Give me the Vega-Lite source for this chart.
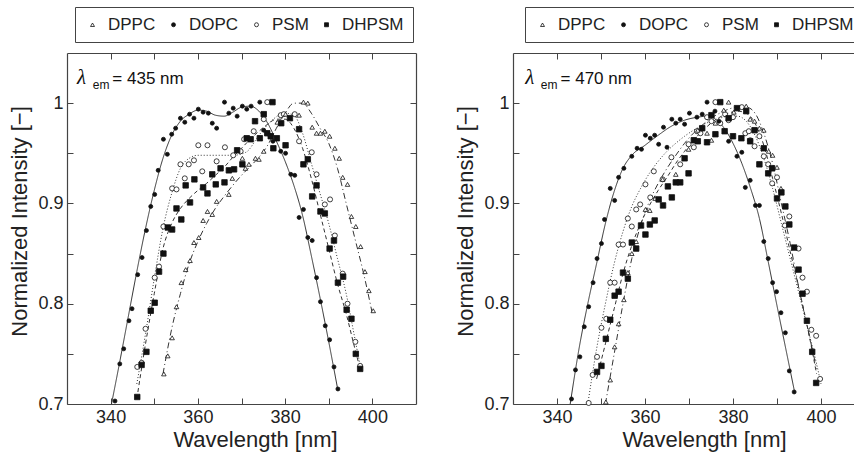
{
  "$schema": "https://vega.github.io/schema/vega-lite/v6.json",
  "padding": {"left": 8, "top": 6, "right": 0, "bottom": 3},
  "spacing": 37,
  "config": {
    "font": "Liberation Sans",
    "view": {"stroke": null},
    "axis": {"grid": false, "domainColor": "#444", "tickColor": "#444", "domainWidth": 1.2, "tickWidth": 1, "labelFontSize": 18, "titleFontSize": 22, "titleFontWeight": "normal", "labelColor": "#222", "titleColor": "#222", "tickSize": -6, "labelPadding": 10},
    "legend": {"strokeColor": "#444", "padding": 9, "labelFontSize": 17, "labelColor": "#222", "symbolSize": 16, "labelOffset": 7, "columnPadding": 9, "symbolStrokeWidth": 0.8}
  },
  "datasets": {
    "pts": [
      {"p":"435","s":"PSM","x":346.1,"y":0.737},{"p":"435","s":"PSM","x":347.1,"y":0.741},{"p":"435","s":"PSM","x":348.0,"y":0.775},{"p":"435","s":"PSM","x":350.1,"y":0.826},{"p":"435","s":"PSM","x":351.1,"y":0.837},{"p":"435","s":"PSM","x":352.1,"y":0.877},{"p":"435","s":"PSM","x":354.1,"y":0.915},{"p":"435","s":"PSM","x":355.1,"y":0.914},{"p":"435","s":"PSM","x":356.0,"y":0.939},{"p":"435","s":"PSM","x":357.0,"y":0.925},{"p":"435","s":"PSM","x":357.9,"y":0.939},{"p":"435","s":"PSM","x":359.1,"y":0.943},{"p":"435","s":"PSM","x":360.1,"y":0.958},{"p":"435","s":"PSM","x":361.0,"y":0.932},{"p":"435","s":"PSM","x":362.2,"y":0.958},{"p":"435","s":"PSM","x":364.3,"y":0.942},{"p":"435","s":"PSM","x":366.2,"y":0.956},{"p":"435","s":"PSM","x":368.1,"y":0.948},{"p":"435","s":"PSM","x":369.8,"y":0.952},{"p":"435","s":"PSM","x":370.6,"y":0.964},{"p":"435","s":"PSM","x":372.8,"y":0.972},{"p":"435","s":"PSM","x":375.1,"y":0.984},{"p":"435","s":"PSM","x":375.9,"y":1.001},{"p":"435","s":"PSM","x":379.0,"y":0.988},{"p":"435","s":"PSM","x":379.7,"y":0.989},{"p":"435","s":"PSM","x":382.2,"y":0.989},{"p":"435","s":"PSM","x":383.2,"y":0.962},{"p":"435","s":"PSM","x":386.1,"y":0.951},{"p":"435","s":"PSM","x":387.2,"y":0.929},{"p":"435","s":"PSM","x":389.1,"y":0.899},{"p":"435","s":"PSM","x":390.3,"y":0.904},{"p":"435","s":"PSM","x":391.4,"y":0.868},{"p":"435","s":"PSM","x":393.2,"y":0.83},{"p":"435","s":"PSM","x":394.3,"y":0.8},{"p":"435","s":"PSM","x":396.1,"y":0.762},{"p":"435","s":"PSM","x":397.2,"y":0.738},
      {"p":"435","s":"DPPC","x":352.2,"y":0.730},{"p":"435","s":"DPPC","x":353.1,"y":0.748},{"p":"435","s":"DPPC","x":354.1,"y":0.766},{"p":"435","s":"DPPC","x":355.1,"y":0.797},{"p":"435","s":"DPPC","x":356.2,"y":0.821},{"p":"435","s":"DPPC","x":357.2,"y":0.834},{"p":"435","s":"DPPC","x":358.2,"y":0.843},{"p":"435","s":"DPPC","x":359.1,"y":0.861},{"p":"435","s":"DPPC","x":360.2,"y":0.866},{"p":"435","s":"DPPC","x":361.2,"y":0.883},{"p":"435","s":"DPPC","x":362.2,"y":0.892},{"p":"435","s":"DPPC","x":363.3,"y":0.889},{"p":"435","s":"DPPC","x":364.3,"y":0.902},{"p":"435","s":"DPPC","x":367.1,"y":0.909},{"p":"435","s":"DPPC","x":367.9,"y":0.925},{"p":"435","s":"DPPC","x":370.2,"y":0.945},{"p":"435","s":"DPPC","x":370.9,"y":0.935},{"p":"435","s":"DPPC","x":371.7,"y":0.939},{"p":"435","s":"DPPC","x":373.2,"y":0.945},{"p":"435","s":"DPPC","x":374.0,"y":0.944},{"p":"435","s":"DPPC","x":375.1,"y":0.952},{"p":"435","s":"DPPC","x":378.2,"y":0.981},{"p":"435","s":"DPPC","x":379.0,"y":0.980},{"p":"435","s":"DPPC","x":380.1,"y":0.989},{"p":"435","s":"DPPC","x":383.2,"y":0.988},{"p":"435","s":"DPPC","x":384.2,"y":1.001},{"p":"435","s":"DPPC","x":385.2,"y":1.000},{"p":"435","s":"DPPC","x":386.2,"y":0.976},{"p":"435","s":"DPPC","x":387.2,"y":0.970},{"p":"435","s":"DPPC","x":388.1,"y":0.970},{"p":"435","s":"DPPC","x":389.1,"y":0.972},{"p":"435","s":"DPPC","x":390.2,"y":0.967},{"p":"435","s":"DPPC","x":391.4,"y":0.955},{"p":"435","s":"DPPC","x":392.4,"y":0.945},{"p":"435","s":"DPPC","x":393.2,"y":0.926},{"p":"435","s":"DPPC","x":394.3,"y":0.919},{"p":"435","s":"DPPC","x":395.2,"y":0.887},{"p":"435","s":"DPPC","x":396.2,"y":0.877},{"p":"435","s":"DPPC","x":397.3,"y":0.857},{"p":"435","s":"DPPC","x":398.3,"y":0.832},{"p":"435","s":"DPPC","x":399.2,"y":0.813},{"p":"435","s":"DPPC","x":400.2,"y":0.793},
      {"p":"435","s":"DHPSM","x":346.1,"y":0.707},{"p":"435","s":"DHPSM","x":347.1,"y":0.739},{"p":"435","s":"DHPSM","x":348.2,"y":0.752},{"p":"435","s":"DHPSM","x":349.2,"y":0.793},{"p":"435","s":"DHPSM","x":350.1,"y":0.801},{"p":"435","s":"DHPSM","x":351.1,"y":0.832},{"p":"435","s":"DHPSM","x":352.1,"y":0.850},{"p":"435","s":"DHPSM","x":353.1,"y":0.876},{"p":"435","s":"DHPSM","x":354.1,"y":0.874},{"p":"435","s":"DHPSM","x":355.1,"y":0.895},{"p":"435","s":"DHPSM","x":356.2,"y":0.884},{"p":"435","s":"DHPSM","x":357.2,"y":0.918},{"p":"435","s":"DHPSM","x":358.2,"y":0.901},{"p":"435","s":"DHPSM","x":359.2,"y":0.924},{"p":"435","s":"DHPSM","x":361.2,"y":0.916},{"p":"435","s":"DHPSM","x":362.2,"y":0.910},{"p":"435","s":"DHPSM","x":363.3,"y":0.929},{"p":"435","s":"DHPSM","x":364.1,"y":0.919},{"p":"435","s":"DHPSM","x":365.2,"y":0.935},{"p":"435","s":"DHPSM","x":366.1,"y":0.921},{"p":"435","s":"DHPSM","x":367.1,"y":0.933},{"p":"435","s":"DHPSM","x":368.3,"y":0.934},{"p":"435","s":"DHPSM","x":369.0,"y":0.953},{"p":"435","s":"DHPSM","x":370.2,"y":0.939},{"p":"435","s":"DHPSM","x":371.2,"y":0.965},{"p":"435","s":"DHPSM","x":372.1,"y":0.964},{"p":"435","s":"DHPSM","x":373.1,"y":0.982},{"p":"435","s":"DHPSM","x":374.2,"y":0.965},{"p":"435","s":"DHPSM","x":375.1,"y":0.989},{"p":"435","s":"DHPSM","x":375.9,"y":0.970},{"p":"435","s":"DHPSM","x":376.7,"y":0.967},{"p":"435","s":"DHPSM","x":377.1,"y":1.001},{"p":"435","s":"DHPSM","x":377.3,"y":0.955},{"p":"435","s":"DHPSM","x":378.1,"y":0.965},{"p":"435","s":"DHPSM","x":379.1,"y":0.980},{"p":"435","s":"DHPSM","x":380.1,"y":0.958},{"p":"435","s":"DHPSM","x":381.1,"y":0.985},{"p":"435","s":"DHPSM","x":383.2,"y":0.974},{"p":"435","s":"DHPSM","x":384.2,"y":0.939},{"p":"435","s":"DHPSM","x":385.2,"y":0.944},{"p":"435","s":"DHPSM","x":386.2,"y":0.907},{"p":"435","s":"DHPSM","x":387.2,"y":0.918},{"p":"435","s":"DHPSM","x":388.1,"y":0.892},{"p":"435","s":"DHPSM","x":389.1,"y":0.890},{"p":"435","s":"DHPSM","x":390.2,"y":0.855},{"p":"435","s":"DHPSM","x":391.2,"y":0.863},{"p":"435","s":"DHPSM","x":392.1,"y":0.821},{"p":"435","s":"DHPSM","x":393.3,"y":0.827},{"p":"435","s":"DHPSM","x":394.1,"y":0.794},{"p":"435","s":"DHPSM","x":395.2,"y":0.785},{"p":"435","s":"DHPSM","x":396.2,"y":0.750},{"p":"435","s":"DHPSM","x":397.2,"y":0.735},
      {"p":"435","s":"DOPC","x":341.0,"y":0.703},{"p":"435","s":"DOPC","x":342.1,"y":0.740},{"p":"435","s":"DOPC","x":343.0,"y":0.755},{"p":"435","s":"DOPC","x":344.2,"y":0.783},{"p":"435","s":"DOPC","x":344.9,"y":0.795},{"p":"435","s":"DOPC","x":346.2,"y":0.829},{"p":"435","s":"DOPC","x":347.2,"y":0.846},{"p":"435","s":"DOPC","x":348.2,"y":0.873},{"p":"435","s":"DOPC","x":349.2,"y":0.897},{"p":"435","s":"DOPC","x":350.1,"y":0.909},{"p":"435","s":"DOPC","x":350.9,"y":0.933},{"p":"435","s":"DOPC","x":352.1,"y":0.964},{"p":"435","s":"DOPC","x":353.0,"y":0.949},{"p":"435","s":"DOPC","x":354.0,"y":0.969},{"p":"435","s":"DOPC","x":354.9,"y":0.975},{"p":"435","s":"DOPC","x":356.0,"y":0.985},{"p":"435","s":"DOPC","x":357.0,"y":0.981},{"p":"435","s":"DOPC","x":358.1,"y":0.989},{"p":"435","s":"DOPC","x":359.1,"y":0.985},{"p":"435","s":"DOPC","x":360.1,"y":0.994},{"p":"435","s":"DOPC","x":361.2,"y":0.991},{"p":"435","s":"DOPC","x":362.4,"y":0.990},{"p":"435","s":"DOPC","x":363.3,"y":0.980},{"p":"435","s":"DOPC","x":364.3,"y":0.975},{"p":"435","s":"DOPC","x":366.1,"y":1.001},{"p":"435","s":"DOPC","x":367.1,"y":0.990},{"p":"435","s":"DOPC","x":368.1,"y":0.995},{"p":"435","s":"DOPC","x":369.0,"y":0.987},{"p":"435","s":"DOPC","x":370.2,"y":0.997},{"p":"435","s":"DOPC","x":371.2,"y":0.994},{"p":"435","s":"DOPC","x":372.2,"y":0.997},{"p":"435","s":"DOPC","x":374.2,"y":1.001},{"p":"435","s":"DOPC","x":375.1,"y":0.973},{"p":"435","s":"DOPC","x":376.5,"y":0.968},{"p":"435","s":"DOPC","x":377.2,"y":0.962},{"p":"435","s":"DOPC","x":379.0,"y":0.952},{"p":"435","s":"DOPC","x":380.1,"y":0.950},{"p":"435","s":"DOPC","x":381.3,"y":0.929},{"p":"435","s":"DOPC","x":382.2,"y":0.928},{"p":"435","s":"DOPC","x":383.2,"y":0.886},{"p":"435","s":"DOPC","x":384.2,"y":0.894},{"p":"435","s":"DOPC","x":385.2,"y":0.866},{"p":"435","s":"DOPC","x":386.2,"y":0.863},{"p":"435","s":"DOPC","x":387.2,"y":0.826},{"p":"435","s":"DOPC","x":388.1,"y":0.802},{"p":"435","s":"DOPC","x":389.2,"y":0.778},{"p":"435","s":"DOPC","x":390.2,"y":0.764},{"p":"435","s":"DOPC","x":391.2,"y":0.737},{"p":"435","s":"DOPC","x":392.1,"y":0.715},

      {"p":"470","s":"PSM","x":347.2,"y":0.701},{"p":"470","s":"PSM","x":348.1,"y":0.729},{"p":"470","s":"PSM","x":349.1,"y":0.747},{"p":"470","s":"PSM","x":350.1,"y":0.776},{"p":"470","s":"PSM","x":351.2,"y":0.785},{"p":"470","s":"PSM","x":352.1,"y":0.821},{"p":"470","s":"PSM","x":353.1,"y":0.821},{"p":"470","s":"PSM","x":354.0,"y":0.859},{"p":"470","s":"PSM","x":355.0,"y":0.859},{"p":"470","s":"PSM","x":356.1,"y":0.885},{"p":"470","s":"PSM","x":357.0,"y":0.877},{"p":"470","s":"PSM","x":358.0,"y":0.894},{"p":"470","s":"PSM","x":358.9,"y":0.899},{"p":"470","s":"PSM","x":360.1,"y":0.919},{"p":"470","s":"PSM","x":361.2,"y":0.906},{"p":"470","s":"PSM","x":362.0,"y":0.932},{"p":"470","s":"PSM","x":364.0,"y":0.924},{"p":"470","s":"PSM","x":366.0,"y":0.946},{"p":"470","s":"PSM","x":368.0,"y":0.939},{"p":"470","s":"PSM","x":369.9,"y":0.959},{"p":"470","s":"PSM","x":371.1,"y":0.956},{"p":"470","s":"PSM","x":371.8,"y":0.972},{"p":"470","s":"PSM","x":372.6,"y":0.970},{"p":"470","s":"PSM","x":374.1,"y":0.986},{"p":"470","s":"PSM","x":375.1,"y":0.982},{"p":"470","s":"PSM","x":376.0,"y":1.001},{"p":"470","s":"PSM","x":377.1,"y":0.980},{"p":"470","s":"PSM","x":378.2,"y":0.989},{"p":"470","s":"PSM","x":379.0,"y":0.983},{"p":"470","s":"PSM","x":380.0,"y":0.986},{"p":"470","s":"PSM","x":382.0,"y":0.996},{"p":"470","s":"PSM","x":382.8,"y":0.970},{"p":"470","s":"PSM","x":383.6,"y":0.972},{"p":"470","s":"PSM","x":383.9,"y":0.963},{"p":"470","s":"PSM","x":384.9,"y":0.957},{"p":"470","s":"PSM","x":386.0,"y":0.967},{"p":"470","s":"PSM","x":387.0,"y":0.947},{"p":"470","s":"PSM","x":388.0,"y":0.939},{"p":"470","s":"PSM","x":388.9,"y":0.920},{"p":"470","s":"PSM","x":390.0,"y":0.926},{"p":"470","s":"PSM","x":391.8,"y":0.878},{"p":"470","s":"PSM","x":392.8,"y":0.887},{"p":"470","s":"PSM","x":394.9,"y":0.855},{"p":"470","s":"PSM","x":395.8,"y":0.826},{"p":"470","s":"PSM","x":396.8,"y":0.812},{"p":"470","s":"PSM","x":397.8,"y":0.774},{"p":"470","s":"PSM","x":398.9,"y":0.768},{"p":"470","s":"PSM","x":399.8,"y":0.725},
      {"p":"470","s":"DPPC","x":351.1,"y":0.702},{"p":"470","s":"DPPC","x":352.1,"y":0.724},{"p":"470","s":"DPPC","x":353.1,"y":0.757},{"p":"470","s":"DPPC","x":354.0,"y":0.780},{"p":"470","s":"DPPC","x":355.2,"y":0.804},{"p":"470","s":"DPPC","x":356.1,"y":0.831},{"p":"470","s":"DPPC","x":357.0,"y":0.850},{"p":"470","s":"DPPC","x":358.0,"y":0.862},{"p":"470","s":"DPPC","x":360.1,"y":0.894},{"p":"470","s":"DPPC","x":361.1,"y":0.893},{"p":"470","s":"DPPC","x":362.3,"y":0.905},{"p":"470","s":"DPPC","x":364.0,"y":0.924},{"p":"470","s":"DPPC","x":367.0,"y":0.929},{"p":"470","s":"DPPC","x":369.9,"y":0.954},{"p":"470","s":"DPPC","x":372.0,"y":0.973},{"p":"470","s":"DPPC","x":374.1,"y":0.970},{"p":"470","s":"DPPC","x":375.1,"y":0.963},{"p":"470","s":"DPPC","x":376.0,"y":0.980},{"p":"470","s":"DPPC","x":377.9,"y":0.993},{"p":"470","s":"DPPC","x":379.0,"y":1.001},{"p":"470","s":"DPPC","x":380.2,"y":0.991},{"p":"470","s":"DPPC","x":383.0,"y":0.997},{"p":"470","s":"DPPC","x":383.9,"y":0.984},{"p":"470","s":"DPPC","x":384.9,"y":0.982},{"p":"470","s":"DPPC","x":386.0,"y":0.975},{"p":"470","s":"DPPC","x":387.0,"y":0.973},{"p":"470","s":"DPPC","x":388.1,"y":0.952},{"p":"470","s":"DPPC","x":389.0,"y":0.948},{"p":"470","s":"DPPC","x":390.0,"y":0.936},{"p":"470","s":"DPPC","x":390.9,"y":0.915},
      {"p":"470","s":"DHPSM","x":349.1,"y":0.732},{"p":"470","s":"DHPSM","x":350.1,"y":0.738},{"p":"470","s":"DHPSM","x":351.1,"y":0.765},{"p":"470","s":"DHPSM","x":352.1,"y":0.784},{"p":"470","s":"DHPSM","x":353.1,"y":0.808},{"p":"470","s":"DHPSM","x":354.0,"y":0.812},{"p":"470","s":"DHPSM","x":355.0,"y":0.831},{"p":"470","s":"DHPSM","x":356.1,"y":0.825},{"p":"470","s":"DHPSM","x":357.0,"y":0.861},{"p":"470","s":"DHPSM","x":358.0,"y":0.855},{"p":"470","s":"DHPSM","x":359.1,"y":0.878},{"p":"470","s":"DHPSM","x":360.1,"y":0.869},{"p":"470","s":"DHPSM","x":361.1,"y":0.879},{"p":"470","s":"DHPSM","x":362.2,"y":0.883},{"p":"470","s":"DHPSM","x":363.1,"y":0.904},{"p":"470","s":"DHPSM","x":364.1,"y":0.898},{"p":"470","s":"DHPSM","x":365.2,"y":0.917},{"p":"470","s":"DHPSM","x":366.1,"y":0.906},{"p":"470","s":"DHPSM","x":367.0,"y":0.921},{"p":"470","s":"DHPSM","x":368.0,"y":0.921},{"p":"470","s":"DHPSM","x":369.0,"y":0.945},{"p":"470","s":"DHPSM","x":369.9,"y":0.930},{"p":"470","s":"DHPSM","x":371.1,"y":0.963},{"p":"470","s":"DHPSM","x":372.0,"y":0.962},{"p":"470","s":"DHPSM","x":373.0,"y":0.975},{"p":"470","s":"DHPSM","x":374.1,"y":0.961},{"p":"470","s":"DHPSM","x":375.1,"y":0.988},{"p":"470","s":"DHPSM","x":376.0,"y":0.969},{"p":"470","s":"DHPSM","x":377.1,"y":1.001},{"p":"470","s":"DHPSM","x":378.1,"y":0.972},{"p":"470","s":"DHPSM","x":379.0,"y":0.985},{"p":"470","s":"DHPSM","x":380.0,"y":0.967},{"p":"470","s":"DHPSM","x":380.9,"y":0.995},{"p":"470","s":"DHPSM","x":381.9,"y":0.965},{"p":"470","s":"DHPSM","x":383.0,"y":0.992},{"p":"470","s":"DHPSM","x":383.9,"y":0.962},{"p":"470","s":"DHPSM","x":384.9,"y":0.973},{"p":"470","s":"DHPSM","x":386.0,"y":0.939},{"p":"470","s":"DHPSM","x":387.0,"y":0.955},{"p":"470","s":"DHPSM","x":388.0,"y":0.930},{"p":"470","s":"DHPSM","x":388.9,"y":0.935},{"p":"470","s":"DHPSM","x":390.0,"y":0.905},{"p":"470","s":"DHPSM","x":391.0,"y":0.911},{"p":"470","s":"DHPSM","x":391.9,"y":0.897},{"p":"470","s":"DHPSM","x":392.8,"y":0.879},{"p":"470","s":"DHPSM","x":393.9,"y":0.856},{"p":"470","s":"DHPSM","x":394.9,"y":0.834},{"p":"470","s":"DHPSM","x":395.8,"y":0.810},{"p":"470","s":"DHPSM","x":396.8,"y":0.783},{"p":"470","s":"DHPSM","x":398.0,"y":0.752},{"p":"470","s":"DHPSM","x":398.9,"y":0.721},
      {"p":"470","s":"DOPC","x":343.3,"y":0.705},{"p":"470","s":"DOPC","x":344.2,"y":0.734},{"p":"470","s":"DOPC","x":345.2,"y":0.747},{"p":"470","s":"DOPC","x":346.2,"y":0.777},{"p":"470","s":"DOPC","x":347.2,"y":0.797},{"p":"470","s":"DOPC","x":348.2,"y":0.821},{"p":"470","s":"DOPC","x":349.1,"y":0.845},{"p":"470","s":"DOPC","x":350.1,"y":0.860},{"p":"470","s":"DOPC","x":350.8,"y":0.884},{"p":"470","s":"DOPC","x":352.1,"y":0.915},{"p":"470","s":"DOPC","x":353.1,"y":0.903},{"p":"470","s":"DOPC","x":354.0,"y":0.926},{"p":"470","s":"DOPC","x":355.2,"y":0.935},{"p":"470","s":"DOPC","x":357.0,"y":0.947},{"p":"470","s":"DOPC","x":358.2,"y":0.955},{"p":"470","s":"DOPC","x":359.2,"y":0.954},{"p":"470","s":"DOPC","x":360.1,"y":0.968},{"p":"470","s":"DOPC","x":361.2,"y":0.965},{"p":"470","s":"DOPC","x":362.2,"y":0.968},{"p":"470","s":"DOPC","x":363.1,"y":0.959},{"p":"470","s":"DOPC","x":364.2,"y":0.976},{"p":"470","s":"DOPC","x":365.0,"y":0.956},{"p":"470","s":"DOPC","x":366.1,"y":0.984},{"p":"470","s":"DOPC","x":367.0,"y":0.980},{"p":"470","s":"DOPC","x":368.0,"y":0.984},{"p":"470","s":"DOPC","x":369.0,"y":0.979},{"p":"470","s":"DOPC","x":370.1,"y":0.990},{"p":"470","s":"DOPC","x":371.8,"y":0.986},{"p":"470","s":"DOPC","x":373.0,"y":0.989},{"p":"470","s":"DOPC","x":374.1,"y":1.001},{"p":"470","s":"DOPC","x":375.9,"y":0.992},{"p":"470","s":"DOPC","x":376.8,"y":0.982},{"p":"470","s":"DOPC","x":378.1,"y":0.972},{"p":"470","s":"DOPC","x":379.0,"y":0.962},{"p":"470","s":"DOPC","x":380.9,"y":0.947},{"p":"470","s":"DOPC","x":382.0,"y":0.951},{"p":"470","s":"DOPC","x":382.8,"y":0.916},{"p":"470","s":"DOPC","x":383.9,"y":0.923},{"p":"470","s":"DOPC","x":385.1,"y":0.898},{"p":"470","s":"DOPC","x":386.0,"y":0.898},{"p":"470","s":"DOPC","x":387.0,"y":0.862},{"p":"470","s":"DOPC","x":388.0,"y":0.845},{"p":"470","s":"DOPC","x":389.0,"y":0.821},{"p":"470","s":"DOPC","x":389.9,"y":0.812},{"p":"470","s":"DOPC","x":390.9,"y":0.791},{"p":"470","s":"DOPC","x":391.9,"y":0.771},{"p":"470","s":"DOPC","x":392.8,"y":0.733},{"p":"470","s":"DOPC","x":393.9,"y":0.712}
    ],
    "fit": [
      {"p":"435","s":"DOPC","x":340.2,"y":0.700},{"p":"435","s":"DOPC","x":342,"y":0.740},{"p":"435","s":"DOPC","x":344,"y":0.786},{"p":"435","s":"DOPC","x":346,"y":0.832},{"p":"435","s":"DOPC","x":348,"y":0.875},{"p":"435","s":"DOPC","x":350,"y":0.913},{"p":"435","s":"DOPC","x":352,"y":0.945},{"p":"435","s":"DOPC","x":354,"y":0.968},{"p":"435","s":"DOPC","x":356,"y":0.982},{"p":"435","s":"DOPC","x":358,"y":0.989},{"p":"435","s":"DOPC","x":360,"y":0.993},{"p":"435","s":"DOPC","x":362,"y":0.992},{"p":"435","s":"DOPC","x":364,"y":0.988},{"p":"435","s":"DOPC","x":366,"y":0.987},{"p":"435","s":"DOPC","x":368,"y":0.991},{"p":"435","s":"DOPC","x":370,"y":0.996},{"p":"435","s":"DOPC","x":372,"y":0.997},{"p":"435","s":"DOPC","x":374,"y":0.992},{"p":"435","s":"DOPC","x":376,"y":0.980},{"p":"435","s":"DOPC","x":378,"y":0.962},{"p":"435","s":"DOPC","x":380,"y":0.942},{"p":"435","s":"DOPC","x":382,"y":0.918},{"p":"435","s":"DOPC","x":384,"y":0.888},{"p":"435","s":"DOPC","x":386,"y":0.848},{"p":"435","s":"DOPC","x":388,"y":0.806},{"p":"435","s":"DOPC","x":390,"y":0.762},{"p":"435","s":"DOPC","x":392,"y":0.716},
      {"p":"435","s":"PSM","x":346,"y":0.720},{"p":"435","s":"PSM","x":348,"y":0.770},{"p":"435","s":"PSM","x":350,"y":0.825},{"p":"435","s":"PSM","x":352,"y":0.875},{"p":"435","s":"PSM","x":354,"y":0.910},{"p":"435","s":"PSM","x":356,"y":0.935},{"p":"435","s":"PSM","x":358,"y":0.945},{"p":"435","s":"PSM","x":360,"y":0.948},{"p":"435","s":"PSM","x":364,"y":0.948},{"p":"435","s":"PSM","x":368,"y":0.948},{"p":"435","s":"PSM","x":371,"y":0.951},{"p":"435","s":"PSM","x":374,"y":0.968},{"p":"435","s":"PSM","x":377,"y":0.983},{"p":"435","s":"PSM","x":380,"y":0.990},{"p":"435","s":"PSM","x":382,"y":0.988},{"p":"435","s":"PSM","x":384,"y":0.970},{"p":"435","s":"PSM","x":386,"y":0.940},{"p":"435","s":"PSM","x":388,"y":0.910},{"p":"435","s":"PSM","x":390,"y":0.880},{"p":"435","s":"PSM","x":392,"y":0.845},{"p":"435","s":"PSM","x":394,"y":0.810},{"p":"435","s":"PSM","x":396,"y":0.765},{"p":"435","s":"PSM","x":397.3,"y":0.736},
      {"p":"435","s":"DHPSM","x":346,"y":0.705},{"p":"435","s":"DHPSM","x":348,"y":0.760},{"p":"435","s":"DHPSM","x":350,"y":0.810},{"p":"435","s":"DHPSM","x":352,"y":0.855},{"p":"435","s":"DHPSM","x":354,"y":0.880},{"p":"435","s":"DHPSM","x":356,"y":0.895},{"p":"435","s":"DHPSM","x":358,"y":0.905},{"p":"435","s":"DHPSM","x":360,"y":0.913},{"p":"435","s":"DHPSM","x":362,"y":0.920},{"p":"435","s":"DHPSM","x":364,"y":0.928},{"p":"435","s":"DHPSM","x":366,"y":0.936},{"p":"435","s":"DHPSM","x":368,"y":0.946},{"p":"435","s":"DHPSM","x":370,"y":0.955},{"p":"435","s":"DHPSM","x":372,"y":0.964},{"p":"435","s":"DHPSM","x":374,"y":0.972},{"p":"435","s":"DHPSM","x":376,"y":0.979},{"p":"435","s":"DHPSM","x":378,"y":0.984},{"p":"435","s":"DHPSM","x":380,"y":0.984},{"p":"435","s":"DHPSM","x":382,"y":0.975},{"p":"435","s":"DHPSM","x":384,"y":0.955},{"p":"435","s":"DHPSM","x":386,"y":0.925},{"p":"435","s":"DHPSM","x":388,"y":0.890},{"p":"435","s":"DHPSM","x":390,"y":0.855},{"p":"435","s":"DHPSM","x":392,"y":0.820},{"p":"435","s":"DHPSM","x":394,"y":0.790},{"p":"435","s":"DHPSM","x":396,"y":0.755},{"p":"435","s":"DHPSM","x":397.2,"y":0.735},
      {"p":"435","s":"DPPC","x":352,"y":0.730},{"p":"435","s":"DPPC","x":354,"y":0.775},{"p":"435","s":"DPPC","x":356,"y":0.810},{"p":"435","s":"DPPC","x":358,"y":0.840},{"p":"435","s":"DPPC","x":360,"y":0.862},{"p":"435","s":"DPPC","x":362,"y":0.880},{"p":"435","s":"DPPC","x":364,"y":0.895},{"p":"435","s":"DPPC","x":366,"y":0.907},{"p":"435","s":"DPPC","x":368,"y":0.918},{"p":"435","s":"DPPC","x":370,"y":0.928},{"p":"435","s":"DPPC","x":372,"y":0.937},{"p":"435","s":"DPPC","x":374,"y":0.946},{"p":"435","s":"DPPC","x":376,"y":0.958},{"p":"435","s":"DPPC","x":378,"y":0.975},{"p":"435","s":"DPPC","x":380,"y":0.990},{"p":"435","s":"DPPC","x":382,"y":1.000},{"p":"435","s":"DPPC","x":384,"y":1.000},{"p":"435","s":"DPPC","x":386,"y":0.990},{"p":"435","s":"DPPC","x":388,"y":0.975},{"p":"435","s":"DPPC","x":390,"y":0.960},{"p":"435","s":"DPPC","x":392,"y":0.935},{"p":"435","s":"DPPC","x":394,"y":0.900},{"p":"435","s":"DPPC","x":396,"y":0.865},{"p":"435","s":"DPPC","x":398,"y":0.830},{"p":"435","s":"DPPC","x":400,"y":0.790},
      {"p":"470","s":"DOPC","x":343,"y":0.700},{"p":"470","s":"DOPC","x":345,"y":0.755},{"p":"470","s":"DOPC","x":347,"y":0.800},{"p":"470","s":"DOPC","x":349,"y":0.840},{"p":"470","s":"DOPC","x":351,"y":0.880},{"p":"470","s":"DOPC","x":353,"y":0.912},{"p":"470","s":"DOPC","x":355,"y":0.935},{"p":"470","s":"DOPC","x":357,"y":0.948},{"p":"470","s":"DOPC","x":360,"y":0.958},{"p":"470","s":"DOPC","x":363,"y":0.968},{"p":"470","s":"DOPC","x":366,"y":0.977},{"p":"470","s":"DOPC","x":369,"y":0.983},{"p":"470","s":"DOPC","x":372,"y":0.986},{"p":"470","s":"DOPC","x":374,"y":0.987},{"p":"470","s":"DOPC","x":376,"y":0.984},{"p":"470","s":"DOPC","x":378,"y":0.975},{"p":"470","s":"DOPC","x":380,"y":0.960},{"p":"470","s":"DOPC","x":382,"y":0.940},{"p":"470","s":"DOPC","x":384,"y":0.915},{"p":"470","s":"DOPC","x":386,"y":0.885},{"p":"470","s":"DOPC","x":388,"y":0.842},{"p":"470","s":"DOPC","x":390,"y":0.798},{"p":"470","s":"DOPC","x":392,"y":0.755},{"p":"470","s":"DOPC","x":394,"y":0.712},
      {"p":"470","s":"PSM","x":347,"y":0.700},{"p":"470","s":"PSM","x":349,"y":0.755},{"p":"470","s":"PSM","x":351,"y":0.800},{"p":"470","s":"PSM","x":353,"y":0.840},{"p":"470","s":"PSM","x":355,"y":0.872},{"p":"470","s":"PSM","x":357,"y":0.897},{"p":"470","s":"PSM","x":359,"y":0.915},{"p":"470","s":"PSM","x":361,"y":0.930},{"p":"470","s":"PSM","x":363,"y":0.942},{"p":"470","s":"PSM","x":365,"y":0.952},{"p":"470","s":"PSM","x":367,"y":0.960},{"p":"470","s":"PSM","x":369,"y":0.967},{"p":"470","s":"PSM","x":371,"y":0.973},{"p":"470","s":"PSM","x":373,"y":0.978},{"p":"470","s":"PSM","x":375,"y":0.982},{"p":"470","s":"PSM","x":377,"y":0.985},{"p":"470","s":"PSM","x":379,"y":0.987},{"p":"470","s":"PSM","x":381,"y":0.987},{"p":"470","s":"PSM","x":383,"y":0.982},{"p":"470","s":"PSM","x":385,"y":0.968},{"p":"470","s":"PSM","x":387,"y":0.945},{"p":"470","s":"PSM","x":389,"y":0.915},{"p":"470","s":"PSM","x":391,"y":0.880},{"p":"470","s":"PSM","x":393,"y":0.845},{"p":"470","s":"PSM","x":395,"y":0.810},{"p":"470","s":"PSM","x":397,"y":0.775},{"p":"470","s":"PSM","x":399,"y":0.740},{"p":"470","s":"PSM","x":400,"y":0.720},
      {"p":"470","s":"DHPSM","x":349,"y":0.725},{"p":"470","s":"DHPSM","x":351,"y":0.760},{"p":"470","s":"DHPSM","x":353,"y":0.795},{"p":"470","s":"DHPSM","x":355,"y":0.830},{"p":"470","s":"DHPSM","x":357,"y":0.858},{"p":"470","s":"DHPSM","x":359,"y":0.880},{"p":"470","s":"DHPSM","x":361,"y":0.898},{"p":"470","s":"DHPSM","x":363,"y":0.913},{"p":"470","s":"DHPSM","x":365,"y":0.926},{"p":"470","s":"DHPSM","x":367,"y":0.940},{"p":"470","s":"DHPSM","x":369,"y":0.952},{"p":"470","s":"DHPSM","x":371,"y":0.963},{"p":"470","s":"DHPSM","x":373,"y":0.972},{"p":"470","s":"DHPSM","x":375,"y":0.980},{"p":"470","s":"DHPSM","x":377,"y":0.986},{"p":"470","s":"DHPSM","x":379,"y":0.990},{"p":"470","s":"DHPSM","x":381,"y":0.992},{"p":"470","s":"DHPSM","x":383,"y":0.990},{"p":"470","s":"DHPSM","x":385,"y":0.980},{"p":"470","s":"DHPSM","x":387,"y":0.958},{"p":"470","s":"DHPSM","x":389,"y":0.925},{"p":"470","s":"DHPSM","x":391,"y":0.890},{"p":"470","s":"DHPSM","x":393,"y":0.852},{"p":"470","s":"DHPSM","x":395,"y":0.815},{"p":"470","s":"DHPSM","x":397,"y":0.775},{"p":"470","s":"DHPSM","x":399,"y":0.730},
      {"p":"470","s":"DPPC","x":351,"y":0.700},{"p":"470","s":"DPPC","x":353,"y":0.750},{"p":"470","s":"DPPC","x":355,"y":0.800},{"p":"470","s":"DPPC","x":357,"y":0.845},{"p":"470","s":"DPPC","x":359,"y":0.878},{"p":"470","s":"DPPC","x":361,"y":0.902},{"p":"470","s":"DPPC","x":363,"y":0.920},{"p":"470","s":"DPPC","x":365,"y":0.935},{"p":"470","s":"DPPC","x":367,"y":0.948},{"p":"470","s":"DPPC","x":369,"y":0.960},{"p":"470","s":"DPPC","x":371,"y":0.970},{"p":"470","s":"DPPC","x":373,"y":0.978},{"p":"470","s":"DPPC","x":375,"y":0.985},{"p":"470","s":"DPPC","x":377,"y":0.990},{"p":"470","s":"DPPC","x":379,"y":0.994},{"p":"470","s":"DPPC","x":381,"y":0.996},{"p":"470","s":"DPPC","x":383,"y":0.996},{"p":"470","s":"DPPC","x":385,"y":0.990},{"p":"470","s":"DPPC","x":387,"y":0.970},{"p":"470","s":"DPPC","x":389,"y":0.940},{"p":"470","s":"DPPC","x":391,"y":0.900},{"p":"470","s":"DPPC","x":393,"y":0.860},{"p":"470","s":"DPPC","x":395,"y":0.815},{"p":"470","s":"DPPC","x":397,"y":0.775},{"p":"470","s":"DPPC","x":399,"y":0.735}
    ],
    "notes": [
      {"p":"435","part":"lam","x":332.3,"y":1.019,"t":"λ"},
      {"p":"435","part":"sub","x":335.9,"y":1.0145,"t":"em"},
      {"p":"435","part":"main","x":340.4,"y":1.019,"t":"= 435 nm"},
      {"p":"470","part":"lam","x":332.8,"y":1.019,"t":"λ"},
      {"p":"470","part":"sub","x":336.3,"y":1.0145,"t":"em"},
      {"p":"470","part":"main","x":340.8,"y":1.019,"t":"= 470 nm"}
    ]
  },
  "resolve": {
    "scale": {"x": "independent", "shape": "independent", "fill": "independent", "size": "independent", "strokeDash": "independent"},
    "legend": {"shape": "independent", "fill": "independent", "size": "independent", "strokeDash": "independent"}
  },
  "hconcat": [
    {
      "width": 349, "height": 351,
      "resolve": {"axis": {"x": "independent", "y": "independent"}},
      "layer": [
        {
          "data": {"name": "fit"},
          "transform": [{"filter": "datum.p == '435'"}],
          "mark": {"type": "line", "interpolate": "monotone", "color": "#333", "strokeWidth": 1},
          "encoding": {
            "x": {"field": "x", "type": "quantitative", "scale": {"domain": [330, 410], "nice": false, "zero": false},
                  "axis": {"title": "Wavelength [nm]", "values": [340, 350, 360, 370, 380, 390, 400], "labelExpr": "datum.value % 20 == 0 ? datum.label : ''", "titlePadding": 3, "titleX": 188}},
            "y": {"field": "y", "type": "quantitative", "scale": {"domain": [0.7, 1.05], "nice": false, "zero": false},
                  "axis": {"title": "Normalized Intensity [−]", "values": [0.7, 0.75, 0.8, 0.85, 0.9, 0.95, 1.0], "labelExpr": "abs(datum.value*10 - round(datum.value*10)) < 0.001 ? format(datum.value, '~g') : ''", "minExtent": 30, "maxExtent": 30, "titlePadding": 6, "titleY": 168}},
            "detail": {"field": "s"},
            "strokeDash": {"field": "s", "type": "nominal", "scale": {"domain": ["DOPC", "PSM", "DHPSM", "DPPC"], "range": [[1, 0], [1, 2], [4, 3], [6, 3, 1, 3]]}, "legend": null}
          }
        },
        {
          "data": {"name": "pts"},
          "transform": [{"filter": "datum.p == '435'"}],
          "mark": {"type": "point", "filled": true, "stroke": "#111", "strokeWidth": 0.8, "opacity": 1},
          "encoding": {
            "x": {"field": "x", "type": "quantitative", "axis": {"orient": "top", "title": null, "labels": false, "values": [340, 350, 360, 370, 380, 390, 400]}},
            "y": {"field": "y", "type": "quantitative", "axis": {"orient": "right", "title": null, "labels": false, "values": [0.75, 0.8, 0.85, 0.9, 0.95, 1.0]}},
            "shape": {"field": "s", "type": "nominal", "scale": {"domain": ["DPPC", "DOPC", "PSM", "DHPSM"], "range": ["triangle-up", "circle", "circle", "square"]}, "legend": {"orient": "none", "direction": "horizontal", "title": null, "legendX": 8, "legendY": -46}},
            "fill": {"field": "s", "type": "nominal", "scale": {"domain": ["DPPC", "DOPC", "PSM", "DHPSM"], "range": ["#ffffff", "#111111", "#ffffff", "#111111"]}, "legend": {"orient": "none", "direction": "horizontal", "title": null, "legendX": 8, "legendY": -46}},
            "size": {"field": "s", "type": "nominal", "scale": {"domain": ["DOPC", "DPPC", "PSM", "DHPSM"], "range": [16, 30, 28, 36]}, "legend": null}
          }
        },
        {
          "data": {"name": "notes"},
          "transform": [{"filter": "datum.p == '435' && datum.part == 'lam'"}],
          "mark": {"type": "text", "align": "left", "baseline": "alphabetic", "fontSize": 21, "font": "Liberation Serif", "fontStyle": "italic", "color": "#111"},
          "encoding": {"x": {"field": "x", "type": "quantitative", "axis": null}, "y": {"field": "y", "type": "quantitative", "axis": null}, "text": {"field": "t"}}
        },
        {
          "data": {"name": "notes"},
          "transform": [{"filter": "datum.p == '435' && datum.part == 'sub'"}],
          "mark": {"type": "text", "align": "left", "baseline": "alphabetic", "fontSize": 12, "color": "#111"},
          "encoding": {"x": {"field": "x", "type": "quantitative", "axis": null}, "y": {"field": "y", "type": "quantitative", "axis": null}, "text": {"field": "t"}}
        },
        {
          "data": {"name": "notes"},
          "transform": [{"filter": "datum.p == '435' && datum.part == 'main'"}],
          "mark": {"type": "text", "align": "left", "baseline": "alphabetic", "fontSize": 17, "color": "#111"},
          "encoding": {"x": {"field": "x", "type": "quantitative", "axis": null}, "y": {"field": "y", "type": "quantitative", "axis": null}, "text": {"field": "t"}}
        }
      ]
    },
    {
      "width": 352, "height": 351,
      "resolve": {"axis": {"x": "independent", "y": "independent"}},
      "layer": [
        {
          "data": {"name": "fit"},
          "transform": [{"filter": "datum.p == '470'"}],
          "mark": {"type": "line", "interpolate": "monotone", "color": "#333", "strokeWidth": 1},
          "encoding": {
            "x": {"field": "x", "type": "quantitative", "scale": {"domain": [330, 410], "nice": false, "zero": false},
                  "axis": {"title": "Wavelength [nm]", "values": [340, 350, 360, 370, 380, 390, 400], "labelExpr": "datum.value % 20 == 0 ? datum.label : ''", "titlePadding": 3, "titleX": 191}},
            "y": {"field": "y", "type": "quantitative", "scale": {"domain": [0.7, 1.05], "nice": false, "zero": false},
                  "axis": {"title": "Normalized Intensity [−]", "values": [0.7, 0.75, 0.8, 0.85, 0.9, 0.95, 1.0], "labelExpr": "abs(datum.value*10 - round(datum.value*10)) < 0.001 ? format(datum.value, '~g') : ''", "minExtent": 30, "maxExtent": 30, "titlePadding": 6, "titleY": 168}},
            "detail": {"field": "s"},
            "strokeDash": {"field": "s", "type": "nominal", "scale": {"domain": ["DOPC", "PSM", "DHPSM", "DPPC"], "range": [[1, 0], [1, 2], [4, 3], [6, 3, 1, 3]]}, "legend": null}
          }
        },
        {
          "data": {"name": "pts"},
          "transform": [{"filter": "datum.p == '470'"}],
          "mark": {"type": "point", "filled": true, "stroke": "#111", "strokeWidth": 0.8, "opacity": 1},
          "encoding": {
            "x": {"field": "x", "type": "quantitative", "axis": {"orient": "top", "title": null, "labels": false, "values": [340, 350, 360, 370, 380, 390, 400]}},
            "y": {"field": "y", "type": "quantitative", "axis": null},
            "shape": {"field": "s", "type": "nominal", "scale": {"domain": ["DPPC", "DOPC", "PSM", "DHPSM"], "range": ["triangle-up", "circle", "circle", "square"]}, "legend": {"orient": "none", "direction": "horizontal", "title": null, "legendX": 12, "legendY": -46}},
            "fill": {"field": "s", "type": "nominal", "scale": {"domain": ["DPPC", "DOPC", "PSM", "DHPSM"], "range": ["#ffffff", "#111111", "#ffffff", "#111111"]}, "legend": {"orient": "none", "direction": "horizontal", "title": null, "legendX": 12, "legendY": -46}},
            "size": {"field": "s", "type": "nominal", "scale": {"domain": ["DOPC", "DPPC", "PSM", "DHPSM"], "range": [16, 30, 28, 36]}, "legend": null}
          }
        },
        {
          "data": {"name": "notes"},
          "transform": [{"filter": "datum.p == '470' && datum.part == 'lam'"}],
          "mark": {"type": "text", "align": "left", "baseline": "alphabetic", "fontSize": 21, "font": "Liberation Serif", "fontStyle": "italic", "color": "#111"},
          "encoding": {"x": {"field": "x", "type": "quantitative", "axis": null}, "y": {"field": "y", "type": "quantitative", "axis": null}, "text": {"field": "t"}}
        },
        {
          "data": {"name": "notes"},
          "transform": [{"filter": "datum.p == '470' && datum.part == 'sub'"}],
          "mark": {"type": "text", "align": "left", "baseline": "alphabetic", "fontSize": 12, "color": "#111"},
          "encoding": {"x": {"field": "x", "type": "quantitative", "axis": null}, "y": {"field": "y", "type": "quantitative", "axis": null}, "text": {"field": "t"}}
        },
        {
          "data": {"name": "notes"},
          "transform": [{"filter": "datum.p == '470' && datum.part == 'main'"}],
          "mark": {"type": "text", "align": "left", "baseline": "alphabetic", "fontSize": 17, "color": "#111"},
          "encoding": {"x": {"field": "x", "type": "quantitative", "axis": null}, "y": {"field": "y", "type": "quantitative", "axis": null}, "text": {"field": "t"}}
        }
      ]
    }
  ]
}
